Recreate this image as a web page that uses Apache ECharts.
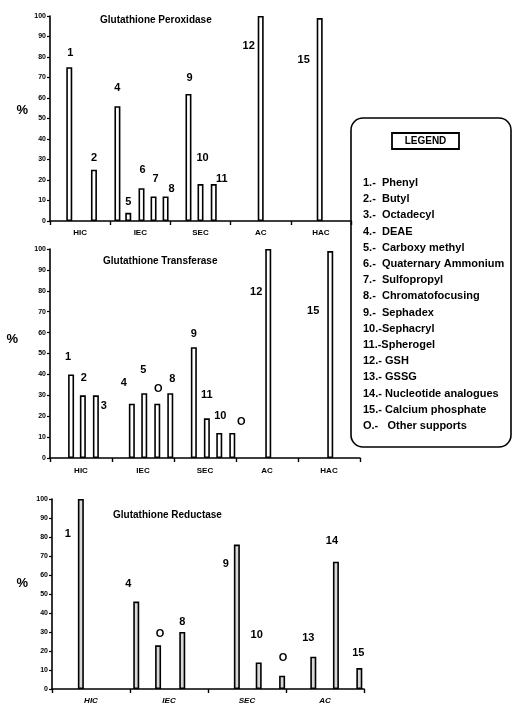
<!DOCTYPE html>
<html>
<head>
<meta charset="utf-8">
<script src="https://cdn.jsdelivr.net/npm/echarts@6/dist/echarts.min.js"></script>
<style>
html,body{margin:0;padding:0;background:#fff;}
#chart{width:512px;height:706px;}
</style>
</head>
<body>
<div id="chart"></div>
<script>
// ---- data ----
const groupsTop = ['HIC', 'IEC', 'SEC', 'AC', 'HAC'];
const groupsMid = ['HIC', 'IEC', 'SEC', 'AC', 'HAC'];
const groupsBot = ['HIC', 'IEC', 'SEC', 'AC'];

const perTitle = 'Glutathione Peroxidase';
const perPos = [0.32, 0.73, 1.12, 1.30, 1.52, 1.72, 1.92, 2.30, 2.50, 2.72, 3.50, 4.48];
const perVals = [75, 25, 56, 4, 16, 12, 12, 62, 18, 18, 100, 99];
const perLabels = ['1', '2', '4', '5', '6', '7', '8', '9', '10', '11', '12', '15'];

const traTitle = 'Glutathione Transferase';
const traPos = [0.34, 0.53, 0.74, 1.32, 1.52, 1.73, 1.94, 2.32, 2.53, 2.73, 2.94, 3.52, 4.52];
const traVals = [40, 30, 30, 26, 31, 26, 31, 53, 19, 12, 12, 100, 99];
const traLabels = ['1', '2', '3', '4', '5', 'O', '8', '9', '11', '10', 'O', '12', '15'];

const redTitle = 'Glutathione Reductase';
const redPos = [0.37, 1.08, 1.36, 1.67, 2.37, 2.65, 2.95, 3.35, 3.64, 3.94];
const redVals = [100, 46, 23, 30, 76, 14, 7, 17, 67, 11];
const redLabels = ['1', '4', 'O', '8', '9', '10', 'O', '13', '14', '15'];

const legendTitle = 'LEGEND';
const legendItems = [
  '1.-  Phenyl', '2.-  Butyl', '3.-  Octadecyl', '4.-  DEAE', '5.-  Carboxy methyl',
  '6.-  Quaternary Ammonium', '7.-  Sulfopropyl', '8.-  Chromatofocusing', '9.-  Sephadex',
  '10.-Sephacryl', '11.-Spherogel', '12.- GSH', '13.- GSSG', '14.- Nucleotide analogues',
  '15.- Calcium phosphate', 'O.-   Other supports'
];

// ---- label placement (styling) ----
const perOffsets = [[1,-9],[0,-6],[0,-13],[0,-5],[1,-13],[2,-12],[6,-2],[1,-10],[2,-21],[8,0],[-12,35],[-16,47]];
const traOffsets = [[-3,-12],[1,-12],[8,16],[-8,-15],[-1,-18],[1,-9],[2,-9],[0,-8],[0,-18],[1,-11],[9,-5],[-12,48],[-17,65]];
const redOffsets = [[-13,40],[-8,-12],[2,-6],[0,-5],[-11,25],[-2,-22],[1,-12],[-5,-13],[-4,-15],[-1,-10]];

const FONT = 'Liberation Sans';
const grids = [
  {left: 50, top: 16, width: 301, height: 205},
  {left: 50, top: 249, width: 310, height: 209},
  {left: 52, top: 499, width: 312, height: 190}
];
const sets = [
  {groups: groupsTop, pos: perPos, vals: perVals, labels: perLabels, offs: perOffsets, title: perTitle, titlePos: [100, 15], nameGap: 22, nameLH: 16, catMargin: 8, italic: false},
  {groups: groupsMid, pos: traPos, vals: traVals, labels: traLabels, offs: traOffsets, title: traTitle, titlePos: [103, 256], nameGap: 32, nameLH: 28, catMargin: 9, italic: false},
  {groups: groupsBot, pos: redPos, vals: redVals, labels: redLabels, offs: redOffsets, title: redTitle, titlePos: [113, 510], nameGap: 24, nameLH: 22, catMargin: 8, italic: true}
];

const xAxes = [], yAxes = [], series = [], titles = [];
sets.forEach((s, gi) => {
  xAxes.push({
    type: 'category', gridIndex: gi, data: s.groups, boundaryGap: true,
    axisLine: {lineStyle: {color: '#000', width: 1.6}},
    axisTick: {show: true, length: 4, lineStyle: {color: '#000', width: 1.4}},
    axisLabel: {color: '#000', fontFamily: FONT, fontWeight: 'bold', fontSize: 8, margin: s.catMargin, fontStyle: s.italic ? 'italic' : 'normal'},
    splitLine: {show: false}
  });
  xAxes.push({type: 'value', gridIndex: gi, min: 0, max: s.groups.length, show: false});
  yAxes.push({
    type: 'value', gridIndex: gi, min: 0, max: 100, interval: 10,
    name: '%', nameLocation: 'middle', nameRotate: 0, nameGap: s.nameGap,
    nameTextStyle: {color: '#000', fontFamily: FONT, fontWeight: 'bold', fontSize: 13, verticalAlign: 'bottom', lineHeight: s.nameLH},
    axisLine: {show: true, lineStyle: {color: '#000', width: 1.6}},
    axisTick: {show: true, length: 3, lineStyle: {color: '#000', width: 1.2}},
    axisLabel: {color: '#000', fontFamily: FONT, fontWeight: 'bold', fontSize: 7, margin: 4},
    splitLine: {show: false}
  });
  series.push({
    type: 'bar', xAxisIndex: gi * 2 + 1, yAxisIndex: gi, barWidth: 6,
    itemStyle: {color: gi === 2 ? '#d8d8d8' : '#fff', borderColor: '#000', borderWidth: 1.6},
    label: {show: true, position: 'top', distance: 0, color: '#000', fontFamily: FONT, fontWeight: 'bold', fontSize: 11,
            formatter: (p) => s.labels[p.dataIndex]},
    data: s.pos.map((p, i) => ({value: [p, s.vals[i]], label: {offset: s.offs[i]}})),
    silent: true, animation: false
  });
  titles.push({
    text: s.title, left: s.titlePos[0], top: s.titlePos[1], padding: 0,
    textStyle: {color: '#000', fontFamily: FONT, fontWeight: 'bold', fontSize: 10}
  });
});

const graphics = [
  {type: 'rect', shape: {x: 351, y: 118, width: 160, height: 329, r: 12},
   style: {fill: 'none', stroke: '#000', lineWidth: 1.6}},
  {type: 'rect', shape: {x: 392, y: 133, width: 67, height: 16},
   style: {fill: 'none', stroke: '#000', lineWidth: 1.8}},
  {type: 'text', x: 425.5, y: 141,
   style: {text: legendTitle, fill: '#000', font: 'bold 10px "Liberation Sans"', textAlign: 'center', textVerticalAlign: 'middle'}}
];
legendItems.forEach((t, i) => {
  graphics.push({type: 'text', x: 363, y: 183 + i * 16.2,
    style: {text: t, fill: '#000', font: 'bold 11px "Liberation Sans"', textAlign: 'left', textVerticalAlign: 'middle'}});
});

const chart = echarts.init(document.getElementById('chart'), null, {renderer: 'canvas'});
chart.setOption({
  animation: false,
  backgroundColor: '#fff',
  title: titles,
  grid: grids,
  xAxis: xAxes,
  yAxis: yAxes,
  series: series,
  graphic: graphics
});
</script>
</body>
</html>
